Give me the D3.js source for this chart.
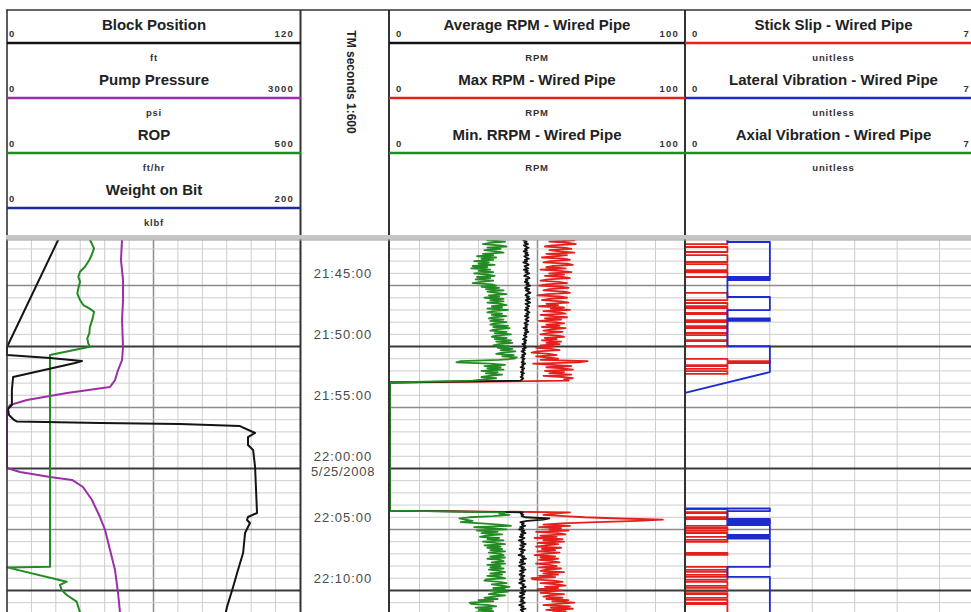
<!DOCTYPE html>
<html>
<head>
<meta charset="utf-8">
<script src="https://cdn.jsdelivr.net/npm/d3@7"></script>
<style>
  body { margin: 0; background: #fff; }
  svg { display: block; font-family: "Liberation Sans", Arial, Helvetica, sans-serif; }
</style>
</head>
<body>
<svg id="log" width="971" height="612"></svg>
<script>
// ---------------------------------------------------------------------------
// Log data. Times are minutes after 21:40:00 on 5/25/2008.
// ---------------------------------------------------------------------------
const logDate = "05/25/2008";
const baseClock = "21:40:00";
const viewStart = "21:41:16";
const viewEnd = "22:11:46";

// Track 1 curve headers
const track1Names = ["Block Position", "Pump Pressure", "ROP", "Weight on Bit"];
const track1Units = ["ft", "psi", "ft/hr", "klbf"];
const track1Ranges = [[0, 120], [0, 3000], [0, 500], [0, 200]];

// Track 3 curve headers
const track3Names = ["Average RPM - Wired Pipe", "Max RPM - Wired Pipe", "Min. RRPM - Wired Pipe"];
const track3Units = ["RPM", "RPM", "RPM"];
const track3Ranges = [[0, 100], [0, 100], [0, 100]];

// Track 4 curve headers
const track4Names = ["Stick Slip - Wired Pipe", "Lateral Vibration - Wired Pipe", "Axial Vibration - Wired Pipe"];
const track4Units = ["unitless", "unitless", "unitless"];
const track4Ranges = [[0, 7], [0, 7], [0, 7]];

const depthTitle = "TM seconds 1:600";

// Block position, ft  [minute, value]
const blockPosition = [
  [1.2, 21.1], [9.96, 0.2], [10.0, 0], [10.70, 0], [10.94, 17.6], [11.19, 30.7], [11.35, 27.9],
  [12.50, 2.5], [13.57, 2.0], [14.80, 2.0], [15.12, 0.4], [15.61, 0.8], [16.02, 2.9], [16.15, 4.1],
  [16.27, 38.1], [16.35, 70.9], [16.52, 95.4], [17.09, 101.6], [17.42, 98.7], [18.07, 98.7],
  [18.48, 100.8], [19.88, 101.6], [21.76, 102.0], [23.65, 102.4], [23.98, 98.7], [24.22, 98.3],
  [24.47, 99.5], [25.29, 97.5], [26.93, 96.7], [28.32, 94.6], [29.71, 92.6], [31.35, 90.1], [31.80, 89.6]
];

// Pump pressure, psi
const pumpPressure = [
  [1.2, 1178], [2.91, 1167], [4.55, 1188], [6.19, 1188], [7.83, 1178], [10.04, 1188], [11.11, 1178],
  [11.93, 1137], [12.75, 1106], [13.32, 1055], [13.81, 614], [14.39, 205], [14.80, 31], [15.20, 0],
  [19.96, 0], [20.29, 133], [20.70, 440], [20.94, 666], [21.52, 778], [22.58, 870], [23.98, 952],
  [25.04, 1004], [26.68, 1055], [28.32, 1106], [30.21, 1137], [31.80, 1157]
];

// Rate of penetration, ft/hr
const rop = [
  [1.2, 141.0], [1.95, 148.5], [2.50, 144.5], [2.91, 140.4], [3.46, 133.1], [3.87, 124.6], [4.28, 121.7],
  [4.69, 124.6], [5.23, 121.7], [5.64, 120.0], [6.19, 124.6], [6.60, 130.2], [6.87, 140.4], [7.15, 148.5],
  [7.69, 146.2], [8.38, 141.6], [8.92, 140.4], [9.33, 137.0], [9.74, 138.7], [10.02, 141.6], [10.70, 73.4],
  [28.05, 73.4], [28.11, 0], [29.28, 101.9], [29.55, 90.4], [29.96, 93.3], [30.37, 101.9], [30.92, 118.9],
  [31.80, 124.6]
];

// Downhole RPM, sampled every rpmStep minutes in two drilling intervals
const rpmStep = 0.1;
const rpmTopStart = 1.2;
const rpmBottomStart = 23.6;
const rotationOff = [12.95, 23.45]; // string not rotating, RPM = 0

const minRpmTop = [
  37, 33, 39, 34, 31.5, 37, 39.5, 33, 37.5, 32,
  36, 38.5, 31.5, 35, 29.5, 36, 31, 35, 28.5, 33.5,
  30, 35.5, 28, 33, 27.5, 34, 30, 35, 28.5, 33,
  35.5, 29.5, 34, 29, 35, 31, 28, 34.5, 36, 31,
  37, 32.5, 38.5, 33, 36, 39.5, 33.5, 37, 32, 38.5,
  34, 38.5, 33, 37.5, 39.5, 34.5, 38, 33, 40, 35,
  33, 38, 34.5, 39.5, 35, 33.5, 38.5, 34, 39.5, 35.5,
  34, 40, 35, 40.5, 36, 34, 39.5, 35.5, 41, 36,
  34.5, 39.5, 35.5, 41, 36, 41.5, 37, 35, 40.5, 36.5,
  41.5, 37.5, 42.5, 38, 36, 42, 38, 43, 42, 37,
  24, 22.5, 34, 39, 32, 37.5, 33, 38.5, 31, 36.5,
  32.5, 38, 33.5, 31, 36, 32, 28
];
const avgRpmTop = [
  46, 45.2, 46.3, 45.6, 46.8, 45.4, 46, 47, 45.8, 46.4,
  45.3, 46.6, 45.9, 46.9, 45.5, 46.2, 47.1, 45.7, 46.5, 45.2,
  46.4, 47, 45.6, 46.1, 46.9, 45.4, 46.7, 45.9, 47.2, 46.3,
  45.5, 46.8, 47.3, 46, 46.6, 45.7, 47, 46.2, 47.5, 46.4,
  45.8, 47.2, 46.1, 46.9, 47.6, 46.3, 45.9, 47.1, 46.4, 47.4,
  46, 46.8, 47.5, 45.9, 46.6, 47.2, 46.1, 46.9, 45.8, 46.7,
  47.3, 46.2, 46.8, 45.7, 47, 46.4, 45.9, 46.9, 46.2, 45.6,
  46.7, 45.9, 46.4, 45.3, 46.5, 45.8, 46.9, 45.6, 46.2, 45.4,
  46.3, 45.7, 45.1, 46.2, 45.5, 46, 44.9, 45.8, 45.3, 46.1,
  45, 45.7, 44.6, 45.5, 45.9, 44.8, 45.4, 44.5, 45.6, 44.9,
  45.3, 44.6, 45.8, 44.8, 45.2, 44.3, 45.5, 44.7, 45.1, 44.4,
  45.4, 44.6, 45, 44.3, 45.2, 44.7, 44.2
];
const maxRpmTop = [
  58, 62.5, 54, 60.5, 63, 55, 52.5, 59, 61.5, 54,
  57.5, 62.5, 53, 60, 56, 51.5, 59, 61, 54.5, 52,
  60, 62, 55, 53, 59.5, 51, 57.5, 61.5, 54, 59,
  52.5, 58.5, 61, 53.5, 51, 57, 60, 53, 50.5, 58,
  60.5, 54, 52, 59, 61, 53.5, 50, 57.5, 60, 54,
  51.5, 58, 60.5, 53, 57, 50.5, 59, 54.5, 61, 52,
  57.5, 59.5, 51, 55, 60, 52.5, 58, 50.5, 56, 59,
  53, 57.5, 51.5, 59.5, 55, 52, 58.5, 53.5, 51, 57,
  59, 52.5, 56.5, 51.5, 58, 53, 57.5, 51, 55.5, 49.5,
  54.5, 57.5, 50, 48, 54, 56.5, 49.5, 53.5, 57, 51,
  67, 64, 48.5, 55, 61.5, 53, 58.5, 62, 52.5, 59,
  54, 61.5, 52, 58.5, 62, 59, 60.5
];
const minRpmBottom = [
  39, 37, 40.5, 35, 27, 23.5, 25.5, 28, 24, 31,
  37, 41, 28.5, 34, 39.5, 29.5, 36.5, 31, 38, 32.5,
  30.5, 37, 33, 38.5, 31.5, 35.5, 39, 32, 37.5, 33,
  38, 34, 39, 33.5, 37.5, 38.5, 34, 39, 33, 37.5,
  38.5, 34.5, 39, 33, 37.5, 34, 38.5, 33.5, 37, 39,
  34, 38, 33, 37.5, 39, 32.5, 32, 37, 39.5, 34.5,
  38, 40.5, 35, 39, 34, 40, 35.5, 33.5, 39, 35,
  32, 36.5, 30, 35, 27, 27.5, 33.5, 36, 29, 34.5,
  30, 35, 29
];
const avgRpmBottom = [
  45, 44.3, 45.2, 44.6, 46, 54, 52, 46.5, 44.2, 45.3,
  44.7, 45.8, 44.1, 45.2, 43.8, 45.5, 44.6, 45.9, 44.3, 45.1,
  44, 45.6, 44.8, 43.7, 45.3, 44.5, 46, 44.2, 45.4, 44.9,
  43.9, 45.7, 44.4, 45.1, 44.7, 43.6, 45.5, 44.8, 46.1, 44.3,
  45.2, 44, 45.8, 44.5, 43.8, 45.4, 44.6, 45.9, 44.1, 45.3,
  44.7, 43.9, 45.6, 44.4, 45.1, 44, 45.7, 44.6, 43.8, 45.4,
  44.9, 46, 44.3, 45.2, 44.6, 45.8, 44.1, 45.5, 44.8, 43.9,
  45.6, 44.4, 45.1, 44.2, 45.7, 44.8, 43.8, 45.3, 44.5, 45.9,
  44.3, 45.1, 44.6
];
const maxRpmBottom = [
  61, 56, 52, 59, 66, 78, 92.5, 84, 70, 58,
  52, 61, 50.5, 58, 54, 60.5, 49.5, 57, 59.5, 51,
  56.5, 49, 58.5, 52, 59, 50, 57, 53, 49.5, 58,
  51.5, 56, 50, 57.5, 52.5, 49, 56, 51, 57, 50.5,
  55, 57.5, 49.5, 54, 56.5, 50.5, 58, 53, 51, 59,
  52, 57, 50.5, 56, 48, 48.5, 55.5, 58.5, 51, 57,
  59.5, 52.5, 57, 50, 58, 53.5, 51, 59, 54, 52,
  58.5, 53, 60.5, 55, 62.5, 57, 52, 61, 54.5, 62,
  53, 59.5, 55
];

// Vibration severity levels, given as [minute, new level] change points
const stickSlip = [
  [1.2, 1], [1.60, 0], [1.84, 1], [2.25, 0], [2.50, 1], [3.07, 0], [3.24, 1], [3.73, 0], [3.89, 1], [4.30, 0],
  [5.61, 1], [6.19, 0], [6.43, 1], [6.68, 0], [6.84, 1], [7.25, 0], [7.34, 1], [7.83, 0], [7.99, 1], [8.32, 0],
  [8.48, 1], [8.89, 0], [9.06, 1], [9.47, 0], [9.55, 1], [9.96, 0], [11.02, 1], [11.19, 2], [11.35, 1], [11.52, 0],
  [11.60, 1], [11.84, 0], [12.01, 1], [12.25, 0],
  [23.32, 1], [23.57, 0], [23.65, 1], [23.98, 0], [24.14, 1], [24.30, 2], [24.47, 1], [24.71, 0], [24.88, 1],
  [25.12, 0], [25.29, 1], [25.61, 0], [25.86, 1], [26.02, 0], [26.93, 1], [27.09, 0], [28.07, 1], [28.32, 0],
  [28.48, 1], [28.73, 0], [28.89, 1], [29.14, 0], [29.30, 1], [29.63, 0], [29.79, 1], [30.12, 0], [30.29, 1],
  [30.61, 0], [30.78, 1], [31.02, 0], [31.11, 1], [31.9, 1]
];
const lateralVibTop = [
  [1.2, 1], [1.43, 2], [4.30, 1], [4.36, 2], [4.42, 1], [4.48, 2], [4.55, 1], [5.94, 2], [7.01, 1],
  [7.70, 2], [7.76, 1], [7.83, 2], [7.90, 1], [9.96, 2], [12.09, 2]
];
const lateralVibBottom = [
  [13.81, 0], [23.28, 2], [23.50, 1], [24.14, 2], [24.30, 1], [24.40, 2], [24.55, 1], [24.65, 2],
  [25.45, 1], [25.55, 2], [25.65, 1], [25.75, 2], [28.07, 1], [28.89, 2], [31.9, 2]
];
const axialVib = [[1.2, 0], [31.9, 0]];

// ---------------------------------------------------------------------------
// Styles
// ---------------------------------------------------------------------------
const colors = {
  black: "#141414", purple: "#9a2fa6", green: "#238b23", blue: "#1c2b9c",
  red: "#e3201c", vibBlue: "#1b2bd0"
};
const track1Colors = [colors.black, colors.purple, colors.green, colors.blue];
const track3Colors = [colors.black, colors.red, colors.green];
const track4Colors = [colors.red, colors.vibBlue, colors.green];

// ---------------------------------------------------------------------------
// Scales
// ---------------------------------------------------------------------------
const svg = d3.select("#log");
const W = 971;
const plotTop = 240, plotBottom = 612;
const parseTime = d3.timeParse("%m/%d/%Y %H:%M:%S");
const base = parseTime(`${logDate} ${baseClock}`);
const at = m => new Date(+base + m * 60000);

const y = d3.scaleTime()
  .domain([parseTime(`${logDate} ${viewStart}`), parseTime(`${logDate} ${viewEnd}`)])
  .range([plotTop, plotBottom]);

const T1 = [7, 300], DT = [300, 389], T3 = [389, 685], T4 = [685, 982];

const x1 = track1Ranges.map(r => d3.scaleLinear().domain(r).range(T1));
const x3 = d3.scaleLinear().domain(track3Ranges[0]).range([390, 685]);
const x4 = d3.scaleLinear().domain(track4Ranges[0]).range(T4);

// ---------------------------------------------------------------------------
// Grid
// ---------------------------------------------------------------------------
const grid = svg.append("g");
const minutes = d3.timeMinute.every(1).range(y.domain()[0], y.domain()[1]);

function hGrid(xa, xb) {
  minutes.forEach(t => {
    const mm = t.getMinutes();
    const major = mm % 10 === 0, medium = !major && mm % 5 === 0;
    grid.append("line")
      .attr("x1", xa).attr("x2", xb).attr("y1", y(t)).attr("y2", y(t))
      .attr("stroke", major ? "#3a3a3a" : medium ? "#8c8c8c" : "#cdcdcd")
      .attr("stroke-width", major ? 2 : medium ? 1.5 : 1);
  });
}
function vGrid(xs, ticks, mid) {
  ticks.forEach(v => {
    grid.append("line")
      .attr("x1", xs(v)).attr("x2", xs(v)).attr("y1", plotTop).attr("y2", plotBottom)
      .attr("stroke", v === mid ? "#8c8c8c" : "#cdcdcd")
      .attr("stroke-width", v === mid ? 1.5 : 1);
  });
}
vGrid(x1[0], x1[0].ticks(10).slice(1, -1), 60);
vGrid(x3, x3.ticks(10).slice(1, -1), 50);
vGrid(x4, d3.range(1, 8), -1);
hGrid(T1[0], T1[1]);
hGrid(T3[0], T3[1]);
hGrid(T4[0], W);

// ---------------------------------------------------------------------------
// Curves
// ---------------------------------------------------------------------------
const defs = svg.append("defs");
function clip(id, xa, xb) {
  defs.append("clipPath").attr("id", id).append("rect")
    .attr("x", xa).attr("y", plotTop).attr("width", xb - xa).attr("height", plotBottom - plotTop);
  return svg.append("g").attr("clip-path", `url(#${id})`);
}
function curve(g, data, xs, color, width) {
  g.append("path").datum(data)
    .attr("fill", "none").attr("stroke", color).attr("stroke-width", width)
    .attr("stroke-linejoin", "round")
    .attr("d", d3.line().x(d => xs(d[1])).y(d => y(at(d[0]))));
}
function sampled(start, values) {
  return values.map((v, i) => [start + i * rpmStep, v]);
}
function rpmSeries(top, bottom) {
  return [...sampled(rpmTopStart, top), [rotationOff[0], 0], [rotationOff[1], 0],
          ...sampled(rpmBottomStart, bottom)];
}
function steps(changes) {
  const pts = [];
  changes.forEach((c, i) => {
    if (i > 0) pts.push([c[0], changes[i - 1][1]]);
    pts.push(c);
  });
  return pts;
}

const g1 = clip("clipT1", T1[0] - 1, T1[1] + 1);
curve(g1, pumpPressure, x1[1], colors.purple, 2);
curve(g1, rop, x1[2], colors.green, 2);
curve(g1, blockPosition, x1[0], colors.black, 2);

const g3 = clip("clipT3", T3[0], T3[1]);
curve(g3, rpmSeries(maxRpmTop, maxRpmBottom), x3, colors.red, 1.8);
curve(g3, rpmSeries(avgRpmTop, avgRpmBottom), x3, colors.black, 1.8);
curve(g3, rpmSeries(minRpmTop, minRpmBottom), x3, colors.green, 1.8);

const g4 = clip("clipT4", T4[0] - 1, W);
curve(g4, steps(stickSlip), x4, colors.red, 1.8);
curve(g4, [...steps(lateralVibTop), ...steps(lateralVibBottom)], x4, colors.vibBlue, 1.8);

// ---------------------------------------------------------------------------
// Track borders
// ---------------------------------------------------------------------------
const frame = svg.append("g").attr("stroke", "#333");
[[7, 1.6], [300.5, 2], [389, 2], [685, 2]].forEach(([xx, w]) => {
  frame.append("line").attr("x1", xx).attr("x2", xx).attr("y1", 10).attr("y2", plotBottom)
    .attr("stroke-width", w);
});
frame.append("line").attr("x1", 6).attr("x2", W).attr("y1", 10).attr("y2", 10).attr("stroke-width", 1.5);
svg.append("rect").attr("x", 6).attr("y", 235).attr("width", W - 6).attr("height", 4.5).attr("fill", "#c6c6c6");
svg.append("line").attr("x1", 6).attr("x2", W).attr("y1", 240).attr("y2", 240)
  .attr("stroke", "#9a9a9a").attr("stroke-width", 1.2);
// axial vibration sits on the track 4 edge, drawn above the border
curve(g4, axialVib, x4, colors.green, 2);

// ---------------------------------------------------------------------------
// Headers
// ---------------------------------------------------------------------------
const rowLines = [43, 98, 153, 208];
function header(xa, xb, names, units, ranges, cols, leftPad, rightPad) {
  const g = svg.append("g");
  const cx = (xa + xb) / 2;
  names.forEach((name, i) => {
    const ly = rowLines[i];
    g.append("line").attr("x1", xa).attr("x2", Math.min(xb, W)).attr("y1", ly).attr("y2", ly)
      .attr("stroke", cols[i]).attr("stroke-width", 2.6);
    g.append("text").attr("x", cx).attr("y", ly - 13).attr("text-anchor", "middle")
      .attr("font-size", 15).attr("font-weight", "bold").attr("fill", "#222").text(name);
    g.append("text").attr("x", cx).attr("y", ly + 17.5).attr("text-anchor", "middle")
      .attr("font-size", 9.5).attr("font-weight", "bold").attr("letter-spacing", 0.8)
      .attr("fill", "#333").text(units[i]);
    g.append("text").attr("x", xa + leftPad).attr("y", ly - 6.5)
      .attr("font-size", 9.5).attr("font-weight", "bold").attr("fill", "#333").text(ranges[i][0]);
    g.append("text").attr("x", Math.min(xb - rightPad, W - 1)).attr("y", ly - 6.5).attr("text-anchor", "end")
      .attr("font-size", 9.5).attr("font-weight", "bold").attr("letter-spacing", 1.2)
      .attr("fill", "#333").text(ranges[i][1]);
  });
}
header(T1[0], 301, track1Names, track1Units, track1Ranges, track1Colors, 2, 7);
header(T3[0], T3[1], track3Names, track3Units, track3Ranges, track3Colors, 7, 6);
header(T4[0], T4[1], track4Names, track4Units, track4Ranges, track4Colors, 7, 9);

svg.append("text")
  .attr("transform", `translate(${(DT[0] + DT[1]) / 2 + 6},82) rotate(90)`)
  .attr("text-anchor", "middle").attr("dominant-baseline", "middle")
  .attr("font-size", 12).attr("font-weight", "bold").attr("fill", "#222")
  .text(depthTitle);

// ---------------------------------------------------------------------------
// Time labels in the depth track
// ---------------------------------------------------------------------------
const fmtClock = d3.timeFormat("%H:%M:%S");
const fmtDate = d3.timeFormat("%-m/%d/%Y");
const labelX = 343;
d3.timeMinute.every(5).range(y.domain()[0], y.domain()[1]).forEach(t => {
  svg.append("text").attr("x", labelX).attr("y", y(t) - 11).attr("text-anchor", "middle")
    .attr("dominant-baseline", "middle").attr("font-size", 13).attr("letter-spacing", 1)
    .attr("fill", "#4a4a4a").text(fmtClock(t));
  if (t.getHours() === 22 && t.getMinutes() === 0) {
    svg.append("text").attr("x", labelX).attr("y", y(t) + 4.5).attr("text-anchor", "middle")
      .attr("dominant-baseline", "middle").attr("font-size", 13).attr("letter-spacing", 0.7)
      .attr("fill", "#4a4a4a").text(fmtDate(t));
  }
});
</script>
</body>
</html>
